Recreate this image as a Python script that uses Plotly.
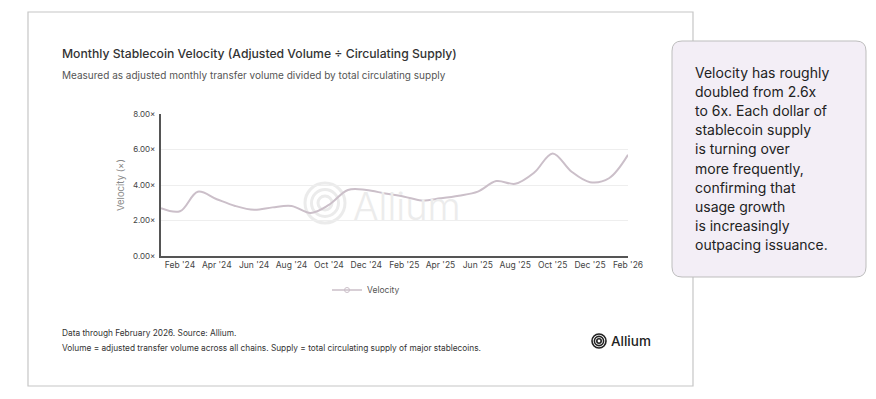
import plotly.graph_objects as go

# ---------------- data ----------------
months = ["2024-01-01", "2024-02-01", "2024-03-01", "2024-04-01", "2024-05-01", "2024-06-01",
          "2024-07-01", "2024-08-01", "2024-09-01", "2024-10-01", "2024-11-01", "2024-12-01",
          "2025-01-01", "2025-02-01", "2025-03-01", "2025-04-01", "2025-05-01", "2025-06-01",
          "2025-07-01", "2025-08-01", "2025-09-01", "2025-10-01", "2025-11-01", "2025-12-01",
          "2026-01-01", "2026-02-01"]
velocity = [2.69, 2.52, 3.62, 3.20, 2.82, 2.60, 2.74, 2.82, 2.42, 2.88, 3.72, 3.72,
            3.52, 3.34, 3.13, 3.25, 3.40, 3.63, 4.22, 4.07, 4.70, 5.78, 4.75, 4.16,
            4.38, 5.70]
x_tick_vals = ["2024-02-01", "2024-04-01", "2024-06-01", "2024-08-01", "2024-10-01", "2024-12-01",
               "2025-02-01", "2025-04-01", "2025-06-01", "2025-08-01", "2025-10-01", "2025-12-01",
               "2026-02-01"]
x_tick_text = ["Feb '24", "Apr '24", "Jun '24", "Aug '24", "Oct '24", "Dec '24",
               "Feb '25", "Apr '25", "Jun '25", "Aug '25", "Oct '25", "Dec '25", "Feb '26"]
y_tick_vals = [0, 2, 4, 6, 8]
y_tick_text = ["0.00×", "2.00×", "4.00×", "6.00×", "8.00×"]

title = "Monthly Stablecoin Velocity (Adjusted Volume ÷ Circulating Supply)"
subtitle = "Measured as adjusted monthly transfer volume divided by total circulating supply"
foot1 = "Data through February 2026. Source: Allium."
foot2 = "Volume = adjusted transfer volume across all chains. Supply = total circulating supply of major stablecoins."
callout_lines = ["Velocity has roughly", "doubled from 2.6x", "to 6x. Each dollar of",
                 "stablecoin supply", "is turning over", "more frequently,",
                 "confirming that", "usage growth", "is increasingly", "outpacing issuance."]

# ---------------- layout geometry (pixels) ----------------
W, H = 876, 399
PL, PR, PT, PB = 161, 628, 114, 256  # plot area


def px(x):
    return (x - PL) / (PR - PL)


def py(y):
    return (PB - y) / (PB - PT)


def rounded_rect(x0, y0, x1, y1, r):
    return (f"M {px(x0 + r)} {py(y0)} L {px(x1 - r)} {py(y0)} "
            f"Q {px(x1)} {py(y0)} {px(x1)} {py(y0 + r)} "
            f"L {px(x1)} {py(y1 - r)} Q {px(x1)} {py(y1)} {px(x1 - r)} {py(y1)} "
            f"L {px(x0 + r)} {py(y1)} Q {px(x0)} {py(y1)} {px(x0)} {py(y1 - r)} "
            f"L {px(x0)} {py(y0 + r)} Q {px(x0)} {py(y0)} {px(x0 + r)} {py(y0)} Z")


FONT = "Inter"
LINE_COLOR = "#cbbfc9"

fig = go.Figure()
fig.add_trace(go.Scatter(
    x=months, y=velocity, mode="lines", name="Velocity", showlegend=False,
    line=dict(color=LINE_COLOR, width=2, shape="spline", smoothing=1.0),
))
# legend entry (line with open circle marker)
fig.add_trace(go.Scatter(
    x=[None], y=[None], mode="lines+markers", name="Velocity", showlegend=True,
    line=dict(color=LINE_COLOR, width=1.5),
    marker=dict(symbol="circle-open", size=5, color=LINE_COLOR, line=dict(width=1)),
))

shapes = []
# outer card
shapes.append(dict(type="rect", xref="paper", yref="paper", layer="below",
                   x0=px(28), x1=px(693), y0=py(386), y1=py(12),
                   line=dict(color="#c6c6c6", width=1.2), fillcolor="white"))
# callout box
shapes.append(dict(type="path", xref="paper", yref="paper", layer="above",
                   path=rounded_rect(672, 41, 866, 277, 10),
                   line=dict(color="#bdbdbd", width=1), fillcolor="#f3eef6"))
# watermark logo rings
cx, cy = 325, 203
for r, w in [(20, 3), (13.5, 3), (7, 3)]:
    shapes.append(dict(type="circle", xref="paper", yref="paper", layer="below",
                       x0=px(cx - r), x1=px(cx + r), y0=py(cy + r), y1=py(cy - r),
                       line=dict(color="#ebebeb", width=w)))
# footer logo rings
fx, fy = 599, 341
for r, w in [(7, 1.6), (4.6, 1.6), (2.2, 1.6)]:
    shapes.append(dict(type="circle", xref="paper", yref="paper", layer="above",
                       x0=px(fx - r), x1=px(fx + r), y0=py(fy + r), y1=py(fy - r),
                       line=dict(color="#222222", width=w)))

annotations = [
    dict(text=title, x=px(60), y=py(53.5), xanchor="left", yanchor="middle",
         font=dict(family=FONT, size=12.2, color="#333333", weight=500)),
    dict(text=subtitle, x=px(60), y=py(75), xanchor="left", yanchor="middle",
         font=dict(family=FONT, size=10, color="#555555")),
    dict(text="Velocity (×)", x=px(120), y=py(185), textangle=-90, xanchor="center",
         yanchor="middle", font=dict(family=FONT, size=9.5, color="#888888")),
    dict(text="Allium", x=px(351), y=py(206), xanchor="left", yanchor="middle",
         font=dict(family=FONT, size=38, color="#ececec", weight=300)),
    dict(text=foot1, x=px(60), y=py(333), xanchor="left", yanchor="middle",
         font=dict(family=FONT, size=8.3, color="#333333")),
    dict(text=foot2, x=px(60), y=py(348), xanchor="left", yanchor="middle",
         font=dict(family=FONT, size=8.3, color="#333333")),
    dict(text="Allium", x=px(609), y=py(341), xanchor="left", yanchor="middle",
         font=dict(family=FONT, size=13.5, color="#222222", weight=500)),
]
for i, line in enumerate(callout_lines):
    annotations.append(dict(text=line, x=px(693), y=py(72.5 + 19.1 * i), xanchor="left",
                            yanchor="middle",
                            font=dict(family=FONT, size=14, color="#222222")))
for a in annotations:
    a.update(xref="paper", yref="paper", showarrow=False)

fig.update_layout(
    width=W, height=H,
    margin=dict(l=PL, r=W - PR, t=PT, b=H - PB, pad=0),
    paper_bgcolor="white", plot_bgcolor="white",
    font=dict(family=FONT, color="#444444"),
    shapes=shapes, annotations=annotations,
    showlegend=True,
    legend=dict(orientation="h", x=px(366), y=py(290), xanchor="center", yanchor="middle",
                font=dict(family=FONT, size=8.5, color="#555555"),
                itemwidth=30, bgcolor="rgba(0,0,0,0)"),
    xaxis=dict(range=[months[0], months[-1]], tickvals=x_tick_vals, ticktext=x_tick_text,
               showgrid=False, zeroline=False, showline=True, linecolor="#555555",
               linewidth=2, ticks="", tickfont=dict(family=FONT, size=8.5, color="#444444"),
               ticklabelstandoff=0),
    yaxis=dict(range=[0, 8], tickvals=y_tick_vals, ticktext=y_tick_text,
               showgrid=True, gridcolor="#eeeeee", gridwidth=1, zeroline=False,
               showline=True, linecolor="#555555", linewidth=2, ticks="",
               tickfont=dict(family=FONT, size=8, color="#444444"), ticklabelstandoff=2),
)

fig.write_html("out.html")
